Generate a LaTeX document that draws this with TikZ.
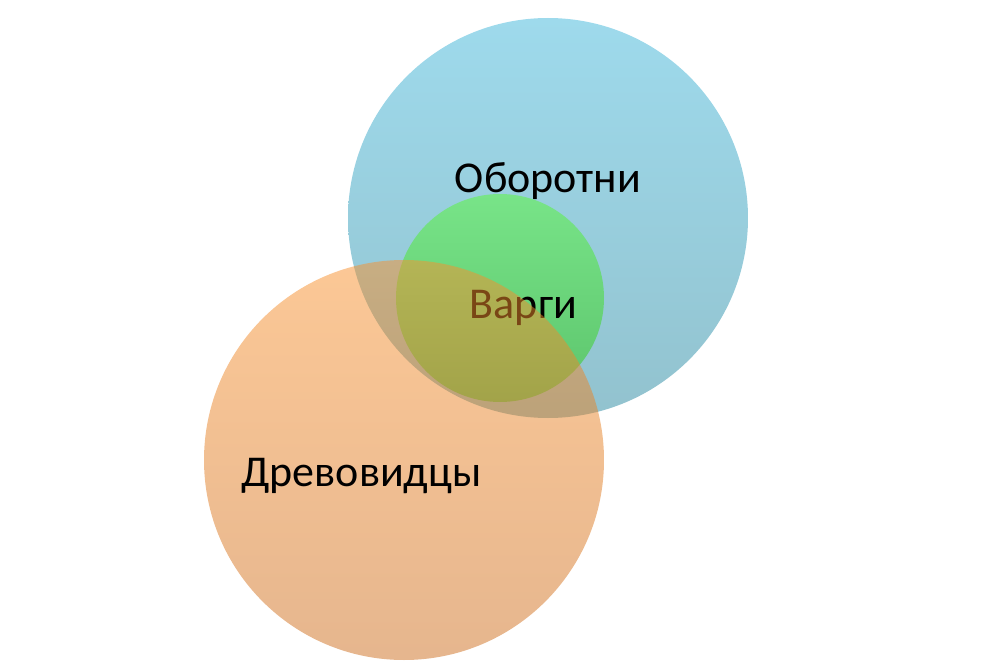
\documentclass[tikz,border=0pt]{standalone}
\usepackage{fontspec}
\setmainfont{Carlito}
\definecolor{bluetop}{RGB}{158,218,236}
\definecolor{bluebot}{RGB}{146,194,206}
\definecolor{greentop}{RGB}{120,228,136}
\definecolor{greenbot}{RGB}{92,196,108}
\definecolor{orangetop}{RGB}{249,145,45}
\definecolor{orangebot}{RGB}{205,109,29}
\tikzset{
  venn/.style={circle, inner sep=0pt, draw=none},
  lbl/.style={anchor=base, font=\fontsize{44}{50}\selectfont, text=black, inner sep=0pt}
}
\begin{document}
\begin{tikzpicture}[x=1pt,y=-1pt]
\useasboundingbox (0,0) rectangle (1002,669);
\node[venn, minimum size=400pt, top color=bluetop, bottom color=bluebot] (blue) at (548,218) {};
\node[lbl] (oborotni) at (548,192) {Оборотни};
\node[venn, minimum size=208pt, top color=greentop, bottom color=greenbot] (green) at (500,298) {};
\node[lbl] (vargi) at (523.5,318) {Варги};
\node[venn, minimum size=400pt, top color=orangetop, bottom color=orangebot, opacity=0.5] (orange) at (404,460) {};
\node[lbl] (drev) at (361.5,486) {Древовидцы};
\end{tikzpicture}
\end{document}
